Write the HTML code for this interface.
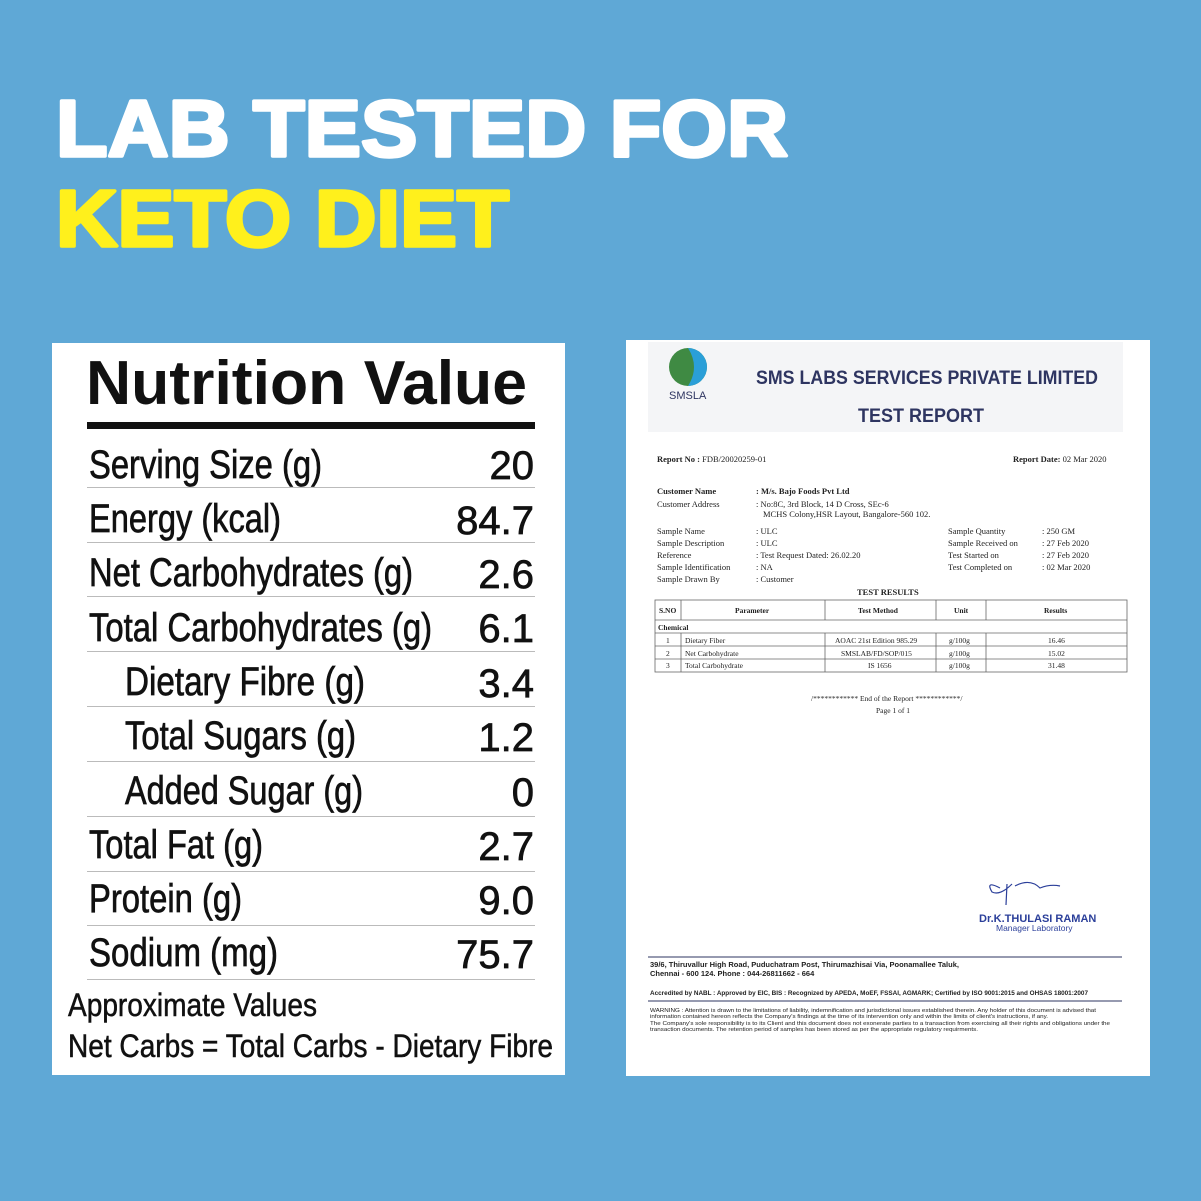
<!DOCTYPE html>
<html><head><meta charset="utf-8"><style>
html,body{margin:0;padding:0;background:#5fa8d6}
svg{display:block}
</style></head><body>
<svg width="1201" height="1201" viewBox="0 0 1201 1201" xmlns="http://www.w3.org/2000/svg">
<rect width="1201" height="1201" fill="#5fa8d6"/>
<g font-family="Liberation Sans, sans-serif" font-weight="bold" stroke-width="3.5" stroke-linejoin="round">
<text x="56" y="156" font-size="80" fill="#ffffff" stroke="#ffffff" textLength="732" lengthAdjust="spacingAndGlyphs">LAB TESTED FOR</text>
<text x="56" y="246" font-size="80" fill="#fff01c" stroke="#fff01c" textLength="453" lengthAdjust="spacingAndGlyphs">KETO DIET</text>
</g>
<!-- nutrition panel -->
<rect x="52" y="343" width="513" height="732" fill="#fff"/>
<g font-family="Liberation Sans, sans-serif" fill="#111">
<text x="86" y="404" font-size="62" font-weight="bold" textLength="441" lengthAdjust="spacingAndGlyphs">Nutrition Value</text>
<rect x="87" y="422" width="448" height="7" fill="#111"/>
<g stroke="#bbb" stroke-width="1">
<line x1="87" y1="487.5" x2="535" y2="487.5"/>
<line x1="87" y1="542.5" x2="535" y2="542.5"/>
<line x1="87" y1="596.5" x2="535" y2="596.5"/>
<line x1="87" y1="651.5" x2="535" y2="651.5"/>
<line x1="87" y1="706.5" x2="535" y2="706.5"/>
<line x1="87" y1="761.5" x2="535" y2="761.5"/>
<line x1="87" y1="816.5" x2="535" y2="816.5"/>
<line x1="87" y1="871.5" x2="535" y2="871.5"/>
<line x1="87" y1="925.5" x2="535" y2="925.5"/>
<line x1="87" y1="979.5" x2="535" y2="979.5"/>
</g>
<g font-size="40" stroke="#111" stroke-width="0.7">
<text x="89" y="478" textLength="233" lengthAdjust="spacingAndGlyphs">Serving Size (g)</text>
<text x="89" y="532" textLength="192" lengthAdjust="spacingAndGlyphs">Energy (kcal)</text>
<text x="89" y="586" textLength="324" lengthAdjust="spacingAndGlyphs">Net Carbohydrates (g)</text>
<text x="89" y="641" textLength="343" lengthAdjust="spacingAndGlyphs">Total Carbohydrates (g)</text>
<text x="125" y="695" textLength="240" lengthAdjust="spacingAndGlyphs">Dietary Fibre (g)</text>
<text x="125" y="749" textLength="231" lengthAdjust="spacingAndGlyphs">Total Sugars (g)</text>
<text x="125" y="804" textLength="238" lengthAdjust="spacingAndGlyphs">Added Sugar (g)</text>
<text x="89" y="858" textLength="174" lengthAdjust="spacingAndGlyphs">Total Fat (g)</text>
<text x="89" y="912" textLength="153" lengthAdjust="spacingAndGlyphs">Protein (g)</text>
<text x="89" y="966" textLength="189" lengthAdjust="spacingAndGlyphs">Sodium (mg)</text>
</g>
<g font-size="40" text-anchor="end" stroke="#111" stroke-width="0.7">
<text x="534" y="479">20</text>
<text x="534" y="534">84.7</text>
<text x="534" y="588">2.6</text>
<text x="534" y="642">6.1</text>
<text x="534" y="697">3.4</text>
<text x="534" y="751">1.2</text>
<text x="534" y="806">0</text>
<text x="534" y="860">2.7</text>
<text x="534" y="914">9.0</text>
<text x="534" y="968">75.7</text>
</g>
<g stroke="#111" stroke-width="0.5">
<text x="68" y="1016" font-size="32" textLength="249" lengthAdjust="spacingAndGlyphs">Approximate Values</text>
<text x="68" y="1057" font-size="32" textLength="485" lengthAdjust="spacingAndGlyphs">Net Carbs = Total Carbs - Dietary Fibre</text>
</g>
</g>
<!-- report -->
<rect x="626" y="340" width="524" height="736" fill="#fff"/>
<rect x="648" y="342" width="475" height="90" fill="#f4f5f7"/>
<circle cx="688" cy="367" r="19" fill="#3f8a43"/>
<path d="M688 348 A19 19 0 0 1 688 386 Q700 367 688 348Z" fill="#2a9fd8"/>
<g font-family="Liberation Sans, sans-serif">
<text x="669" y="399" font-size="11" fill="#2e3561">SMSLA</text>
<text x="756" y="384" font-size="19" font-weight="bold" fill="#2e3561" textLength="342" lengthAdjust="spacingAndGlyphs">SMS LABS SERVICES PRIVATE LIMITED</text>
<text x="858" y="422" font-size="19" font-weight="bold" fill="#2e3561" textLength="126" lengthAdjust="spacingAndGlyphs">TEST REPORT</text>
</g>
<g font-family="Liberation Serif, serif" font-size="8.5" fill="#222">
<text x="657" y="462"><tspan font-weight="bold">Report No :</tspan>  FDB/20020259-01</text>
<text x="1013" y="462"><tspan font-weight="bold">Report Date:</tspan>  02 Mar 2020</text>
<text x="657" y="494" font-weight="bold">Customer Name</text><text x="756" y="494" font-weight="bold">:  M/s. Bajo Foods Pvt Ltd</text>
<text x="657" y="507">Customer Address</text><text x="756" y="507">:  No:8C, 3rd Block, 14 D Cross, SEc-6</text>
<text x="763" y="517">MCHS Colony,HSR Layout, Bangalore-560 102.</text>
<text x="657" y="534">Sample Name</text><text x="756" y="534">:  ULC</text>
<text x="657" y="546">Sample Description</text><text x="756" y="546">:  ULC</text>
<text x="657" y="558">Reference</text><text x="756" y="558">:  Test Request Dated: 26.02.20</text>
<text x="657" y="570">Sample Identification</text><text x="756" y="570">:  NA</text>
<text x="657" y="582">Sample Drawn By</text><text x="756" y="582">:  Customer</text>
<text x="948" y="534">Sample Quantity</text><text x="1042" y="534">: 250 GM</text>
<text x="948" y="546">Sample Received on</text><text x="1042" y="546">: 27 Feb 2020</text>
<text x="948" y="558">Test Started on</text><text x="1042" y="558">: 27 Feb 2020</text>
<text x="948" y="570">Test Completed on</text><text x="1042" y="570">: 02 Mar 2020</text>
<text x="857" y="595" font-weight="bold">TEST RESULTS</text>
<g stroke="#666" stroke-width="0.8" fill="none">
<rect x="655" y="600" width="472" height="72"/>
<line x1="655" y1="620" x2="1127" y2="620"/>
<line x1="655" y1="633" x2="1127" y2="633"/>
<line x1="655" y1="646" x2="1127" y2="646"/>
<line x1="655" y1="659" x2="1127" y2="659"/>
<line x1="681" y1="600" x2="681" y2="620"/><line x1="681" y1="633" x2="681" y2="672"/>
<line x1="825" y1="600" x2="825" y2="620"/><line x1="825" y1="633" x2="825" y2="672"/>
<line x1="936" y1="600" x2="936" y2="620"/><line x1="936" y1="633" x2="936" y2="672"/>
<line x1="986" y1="600" x2="986" y2="620"/><line x1="986" y1="633" x2="986" y2="672"/>
</g>
<g font-size="7.5">
<text x="659" y="613" font-weight="bold">S.NO</text>
<text x="735" y="613" font-weight="bold">Parameter</text>
<text x="858" y="613" font-weight="bold">Test Method</text>
<text x="954" y="613" font-weight="bold">Unit</text>
<text x="1044" y="613" font-weight="bold">Results</text>
<text x="658" y="630" font-weight="bold">Chemical</text>
<text x="666" y="643">1</text><text x="685" y="643">Dietary Fiber</text><text x="835" y="643">AOAC 21st Edition 985.29</text><text x="949" y="643">g/100g</text><text x="1048" y="643">16.46</text>
<text x="666" y="656">2</text><text x="685" y="656">Net Carbohydrate</text><text x="841" y="656">SMSLAB/FD/SOP/015</text><text x="949" y="656">g/100g</text><text x="1048" y="656">15.02</text>
<text x="666" y="668">3</text><text x="685" y="668">Total Carbohydrate</text><text x="868" y="668">IS 1656</text><text x="949" y="668">g/100g</text><text x="1048" y="668">31.48</text>
<text x="811" y="701">/************ End of the Report ************/</text>
<text x="876" y="713">Page 1 of 1</text>
</g>
</g>
<path d="M1000 888 Q985 880 992 892 Q1000 896 1012 884 M1007 884 L1006 905 M1015 886 Q1030 878 1040 888 Q1050 884 1060 886" stroke="#2b3f9a" stroke-width="1.2" fill="none"/>
<g font-family="Liberation Sans, sans-serif" fill="#2b3f9a">
<text x="979" y="922" font-size="11" font-weight="bold">Dr.K.THULASI RAMAN</text>
<text x="996" y="931" font-size="8.5">Manager Laboratory</text>
</g>
<line x1="648" y1="957" x2="1122" y2="957" stroke="#2e3561" stroke-width="1"/>
<g font-family="Liberation Sans, sans-serif" fill="#222">
<text x="650" y="967" font-size="7.5" font-weight="bold">39/6, Thiruvallur High Road, Puduchatram Post, Thirumazhisai Via, Poonamallee Taluk,</text>
<text x="650" y="976" font-size="7.5" font-weight="bold">Chennai - 600 124. Phone : 044-26811662 - 664</text>
<text x="650" y="995" font-size="6.3" font-weight="bold" textLength="438" lengthAdjust="spacingAndGlyphs">Accredited by NABL : Approved by EIC, BIS : Recognized by APEDA, MoEF, FSSAI, AGMARK; Certified by ISO 9001:2015 and OHSAS 18001:2007</text>
<line x1="648" y1="1001" x2="1122" y2="1001" stroke="#2e3561" stroke-width="1"/>
<g font-size="5.2">
<text x="650" y="1012" textLength="446" lengthAdjust="spacingAndGlyphs">WARNING : Attention is drawn to the limitations of liability, indemnification and jurisdictional issues established therein. Any holder of this document is advised that</text>
<text x="650" y="1018" textLength="398" lengthAdjust="spacingAndGlyphs">information contained hereon reflects the Company's findings at the time of its intervention only and within the limits of client's instructions, if any.</text>
<text x="650" y="1025" textLength="460" lengthAdjust="spacingAndGlyphs">The Company's sole responsibility is to its Client and this document does not exonerate parties to a transaction from exercising all their rights and obligations under the</text>
<text x="650" y="1031" textLength="328" lengthAdjust="spacingAndGlyphs">transaction documents. The retention period of samples has been stored as per the appropriate regulatory requirments.</text>
</g>
</g>
</svg>
</body></html>
